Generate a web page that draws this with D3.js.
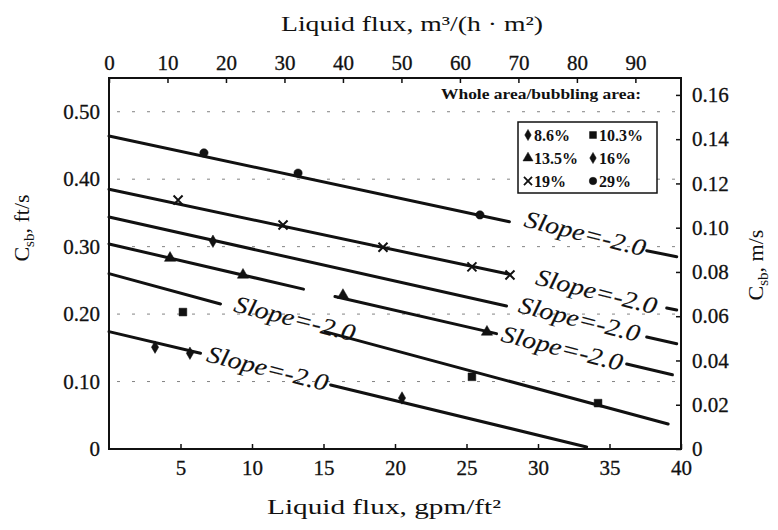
<!DOCTYPE html>
<html>
<head>
<meta charset="utf-8">
<script src="https://cdn.jsdelivr.net/npm/d3@7"></script>
<style>
  html, body { margin: 0; padding: 0; background: #fff; }
  svg { display: block; }
  text { font-family: "Liberation Serif", "Times New Roman", serif; fill: #111; }
</style>
</head>
<body>
<svg id="chart" width="778" height="530"></svg>
<script>
// Axis tick values
const gpmTicks = [5, 10, 15, 20, 25, 30, 35, 40];          // bottom, gpm/ft²
const m3Ticks  = [0, 10, 20, 30, 40, 50, 60, 70, 80, 90];  // top, m³/(h·m²)
const ftTicks  = [0, 0.1, 0.2, 0.3, 0.4, 0.5];             // left, ft/s
const msTicks  = [0, 0.02, 0.04, 0.06, 0.08, 0.10, 0.12, 0.14, 0.16]; // right, m/s

// Unit conversions between the paired axes
const GPM_TO_M3 = 2.445;
const FT_TO_M = 0.3048;

// Correlation lines, [liquid flux gpm/ft², C_sb ft/s]; each line is broken where its label sits
const line29  = [[[0, 0.464], [28.0, 0.337]], [[37.6, 0.294], [39.7, 0.285]]];
const line19  = [[[0, 0.385], [28.0, 0.259]], [[39.0, 0.209], [39.7, 0.206]]];
const line16  = [[[0, 0.344], [27.8, 0.212]], [[37.6, 0.166], [39.7, 0.156]]];
const line135 = [[[0, 0.304], [13.6, 0.237]], [[15.8, 0.226], [27.1, 0.171]], [[36.2, 0.126], [39.4, 0.110]]];
const line103 = [[[0, 0.260], [7.8, 0.215]], [[15.1, 0.174], [39.1, 0.037]]];
const line86  = [[[0, 0.174], [6.4, 0.142]], [[15.5, 0.095], [33.4, 0.003]]];

// Measured points by whole area / bubbling area ratio
const pts29  = [[6.64, 0.439], [13.22, 0.409], [25.94, 0.347]];
const pts19  = [[4.83, 0.369], [12.17, 0.332], [19.16, 0.299], [25.38, 0.270], [28.04, 0.258]];
const pts16  = [[7.27, 0.308]];
const pts135 = [[4.27, 0.283], [9.37, 0.258], [16.36, 0.228], [26.43, 0.1735]];
const pts103 = [[5.17, 0.203], [25.38, 0.107], [34.2, 0.068]];
const pts86  = [[3.22, 0.151], [5.66, 0.142], [20.49, 0.0756]];

// "Slope" annotation anchors (label centre, gpm/ft² and ft/s)
const slopeLabels = [[33.3, 0.320], [34.1, 0.234], [32.9, 0.193], [31.7, 0.150], [13.0, 0.194], [11.1, 0.120]];

const legendItems = ["8.6%", "10.3%", "13.5%", "16%", "19%", "29%"];

const svg = d3.select("#chart");
const m = { left: 109, right: 681, top: 78, bottom: 449 };

const x = d3.scaleLinear().domain([0, 40]).range([m.left, m.right]);
const xTop = d3.scaleLinear().domain([0, 40 * GPM_TO_M3]).range([m.left, m.right]);
const y = d3.scaleLinear().domain([0, 0.55]).range([m.bottom, m.top]);
const yRight = d3.scaleLinear().domain([0, 0.55 * FT_TO_M]).range([m.bottom, m.top]);

// Faint dotted grid at each ft/s tick
svg.append("g").selectAll("line")
  .data(ftTicks.filter(d => d > 0))
  .join("line")
  .attr("x1", m.left + 8).attr("x2", m.right - 4)
  .attr("y1", d => y(d)).attr("y2", d => y(d))
  .attr("stroke", "#333").attr("stroke-width", 1)
  .attr("stroke-dasharray", "3,12").attr("opacity", 0.6);

// Axes
const fmt2 = d => d === 0 ? "0" : d3.format(".2f")(d);
const axisStyle = g => {
  g.select(".domain").remove();
  g.selectAll(".tick line").attr("stroke", "#111").attr("stroke-width", 1.5);
  g.selectAll("text").style("font-size", "21px").attr("fill", "#111")
    .attr("stroke", "#111").attr("stroke-width", 0.3);
};

svg.append("g").attr("transform", `translate(0,${m.bottom})`)
  .call(d3.axisBottom(x).tickValues(gpmTicks).tickSize(-5).tickPadding(11).tickFormat(d3.format("d")))
  .call(axisStyle);

svg.append("g").attr("transform", `translate(0,${m.top})`)
  .call(d3.axisTop(xTop).tickValues(m3Ticks).tickSize(-5).tickPadding(8).tickFormat(d3.format("d")))
  .call(axisStyle);

svg.append("g").attr("transform", `translate(${m.left},0)`)
  .call(d3.axisLeft(y).tickValues(ftTicks).tickSize(0).tickPadding(9).tickFormat(fmt2))
  .call(axisStyle);

svg.append("g").attr("transform", `translate(${m.right},0)`)
  .call(d3.axisRight(yRight).tickValues(msTicks).tickSize(-5).tickPadding(11).tickFormat(fmt2))
  .call(axisStyle);

// Frame
svg.append("rect")
  .attr("x", m.left).attr("y", m.top)
  .attr("width", m.right - m.left).attr("height", m.bottom - m.top)
  .attr("fill", "none").attr("stroke", "#111").attr("stroke-width", 2);

// Axis titles
svg.append("text").attr("x", 412).attr("y", 31).attr("text-anchor", "middle")
  .style("font-size", "22px")
  .attr("textLength", 262).attr("lengthAdjust", "spacingAndGlyphs")
  .text("Liquid flux, m³/(h · m²)");

svg.append("text").attr("x", 384).attr("y", 514).attr("text-anchor", "middle")
  .style("font-size", "22px")
  .attr("textLength", 234).attr("lengthAdjust", "spacingAndGlyphs")
  .text("Liquid flux, gpm/ft²");

function csbTitle(cx, cy, unit) {
  const t = svg.append("text")
    .attr("transform", `translate(${cx},${cy}) rotate(-90)`)
    .attr("text-anchor", "middle").style("font-size", "22px");
  t.append("tspan").text("C");
  t.append("tspan").attr("dy", 5).style("font-size", "15px").text("sb");
  t.append("tspan").attr("dy", -5).text(", " + unit);
}
csbTitle(29, 228, "ft/s");
csbTitle(763, 265, "m/s");

// Lines
const lineGen = d3.line().x(d => x(d[0])).y(d => y(d[1]));
const allLines = [line29, line19, line16, line135, line103, line86];
svg.append("g").selectAll("path")
  .data(allLines.flat())
  .join("path")
  .attr("d", lineGen)
  .attr("fill", "none").attr("stroke", "#111").attr("stroke-width", 3).attr("stroke-linecap", "round");

// Slope annotations
svg.append("g").selectAll("text")
  .data(slopeLabels)
  .join("text")
  .attr("transform", d => `translate(${x(d[0])},${y(d[1])}) rotate(14)`)
  .attr("text-anchor", "middle").attr("dy", "0.35em")
  .style("font-size", "24px").style("font-style", "italic")
  .attr("stroke", "#111").attr("stroke-width", 0.15)
  .attr("textLength", 124).attr("lengthAdjust", "spacingAndGlyphs")
  .text("Slope=-2.0");

// Marker symbols
const timesType = d3.symbolTimes || d3.symbolX || d3.symbolCross;
const symbols = {
  "8.6%":  { type: d3.symbolDiamond, size: 45, pts: pts86 },
  "10.3%": { type: d3.symbolSquare, size: 60, pts: pts103 },
  "13.5%": { type: d3.symbolTriangle, size: 55, pts: pts135 },
  "16%":   { type: d3.symbolDiamond, size: 45, pts: pts16 },
  "19%":   { type: timesType, size: 55, pts: pts19, stroke: true },
  "29%":   { type: d3.symbolCircle, size: 55, pts: pts29 }
};

const markers = svg.append("g");
Object.values(symbols).forEach(s => {
  markers.selectAll(null)
    .data(s.pts)
    .join("path")
    .attr("transform", d => `translate(${x(d[0])},${y(d[1])})`)
    .attr("d", d3.symbol().type(s.type).size(s.size))
    .attr("fill", s.stroke ? "none" : "#111")
    .attr("stroke", "#111").attr("stroke-width", s.stroke ? 2 : 0.5);
});

// Legend
svg.append("text").attr("x", 541).attr("y", 99).attr("text-anchor", "middle")
  .style("font-size", "14px").style("font-weight", "bold")
  .attr("textLength", 200).attr("lengthAdjust", "spacingAndGlyphs")
  .text("Whole area/bubbling area:");

svg.append("rect").attr("x", 518).attr("y", 122).attr("width", 139).attr("height", 71)
  .attr("fill", "#fff").attr("stroke", "#111").attr("stroke-width", 1.5);

const legendPos = [[528, 135], [593, 135], [528, 158], [593, 158], [528, 181], [593, 181]];
legendItems.forEach((k, i) => {
  const s = symbols[k];
  const [lx, ly] = legendPos[i];
  svg.append("path")
    .attr("transform", `translate(${lx},${ly})`)
    .attr("d", d3.symbol().type(s.type).size(s.size * 0.8))
    .attr("fill", s.stroke ? "none" : "#111")
    .attr("stroke", "#111").attr("stroke-width", s.stroke ? 1.8 : 0.5);
  svg.append("text").attr("x", lx + 6).attr("y", ly).attr("dy", "0.35em")
    .style("font-size", "16px").style("font-weight", "bold")
    .text(k);
});
</script>
</body>
</html>
